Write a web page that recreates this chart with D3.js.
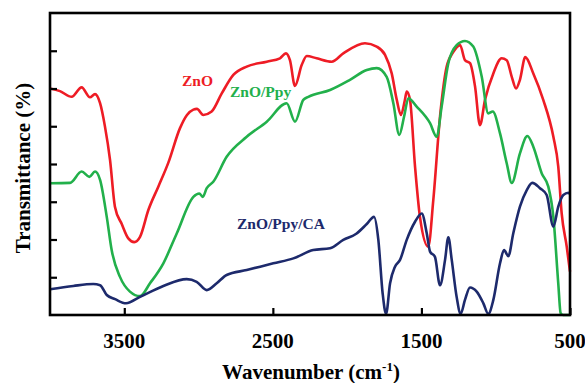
<!DOCTYPE html>
<html>
<head>
<meta charset="utf-8">
<script src="https://cdn.jsdelivr.net/npm/d3@7"></script>
<style>
  body { margin: 0; background: #fff; }
  svg text { font-family: "Liberation Serif", "Times New Roman", serif; font-weight: bold; }
</style>
</head>
<body>
<svg id="chart" width="585" height="383"></svg>
<script>
// FTIR spectra: [wavenumber, transmittance (arbitrary offset units)]
const znO = [
  [4000, 60.0], [3933, 59.3], [3854, 57.8], [3787, 60.3], [3731, 57.7], [3697, 58.5],
  [3663, 56.1], [3630, 49.9], [3596, 41.1], [3563, 28.7], [3517, 24.1], [3473, 20.3],
  [3433, 19.3], [3394, 20.7], [3338, 27.8], [3271, 34.0], [3204, 40.3], [3125, 49.5],
  [3078, 53.0], [3035, 54.4], [3011, 54.6], [2968, 53.0], [2912, 53.9], [2844, 58.7],
  [2766, 63.6], [2676, 65.8], [2541, 67.1], [2452, 68.0], [2412, 69.3], [2385, 67.5],
  [2351, 60.7], [2306, 66.2], [2272, 68.6], [2205, 68.0], [2104, 67.1], [2026, 69.3],
  [1880, 72.0], [1801, 71.1], [1745, 68.9], [1700, 64.0], [1666, 57.0], [1638, 53.0],
  [1611, 57.0], [1599, 59.2], [1577, 57.0], [1543, 39.3], [1510, 26.0], [1454, 18.1],
  [1420, 30.5], [1375, 52.5], [1330, 65.8], [1285, 69.7], [1240, 71.5], [1207, 67.5],
  [1173, 66.7], [1139, 60.5], [1106, 50.3], [1072, 57.0], [1016, 64.0], [960, 68.0],
  [926, 67.5], [892, 63.1], [863, 60.0], [837, 62.3], [801, 68.3], [747, 64.0],
  [680, 57.0], [612, 47.2], [579, 39.3], [556, 26.9], [522, 18.1], [500, 11.5]
];
const znOPpy = [
  [4000, 34.9], [3865, 35.0], [3787, 38.0], [3735, 36.6], [3697, 38.0], [3663, 35.8],
  [3618, 26.0], [3585, 17.2], [3529, 10.1], [3462, 6.2], [3394, 5.0], [3327, 8.4],
  [3237, 13.7], [3147, 21.6], [3035, 31.3], [2995, 32.2], [2972, 31.3], [2945, 33.6],
  [2901, 35.3], [2811, 41.9], [2676, 47.2], [2541, 51.2], [2407, 56.1], [2351, 51.2],
  [2295, 57.0], [2261, 57.8], [2115, 59.6], [1981, 62.3], [1868, 64.9], [1801, 65.4],
  [1734, 63.1], [1689, 56.1], [1649, 47.7], [1617, 52.5], [1588, 57.4], [1532, 55.2],
  [1442, 50.8], [1397, 47.2], [1364, 55.2], [1319, 66.7], [1263, 71.5], [1207, 72.6],
  [1151, 71.1], [1094, 63.1], [1050, 53.4], [1020, 53.9], [971, 48.1], [926, 40.2],
  [892, 35.0], [837, 42.8], [787, 47.4], [747, 44.6], [690, 37.5], [646, 34.0],
  [612, 26.0], [579, 8.4], [563, 0.5], [547, 0], [500, 0]
];
const znOPpyCA = [
  [4000, 6.8], [3843, 7.7], [3709, 8.2], [3663, 7.9], [3618, 5.3], [3562, 4.2],
  [3488, 3.1], [3394, 4.8], [3237, 7.7], [3080, 9.5], [3013, 8.8], [2945, 6.6],
  [2878, 8.4], [2811, 10.6], [2676, 11.9], [2497, 13.7], [2362, 15.0], [2228, 17.2],
  [2115, 17.7], [2026, 19.9], [1936, 21.6], [1868, 24.1], [1819, 26.0], [1790, 19.9],
  [1761, 5.7], [1738, 0.3], [1711, 8.4], [1678, 12.8], [1644, 14.6], [1599, 19.9],
  [1543, 24.7], [1498, 26.9], [1464, 21.6], [1442, 16.8], [1409, 15.4], [1375, 7.9],
  [1341, 14.6], [1319, 20.6], [1296, 14.6], [1263, 4.8], [1236, 0.3], [1207, 4.0],
  [1173, 7.3], [1128, 6.2], [1083, 3.1], [1050, 0.3], [1016, 4.0], [971, 13.7],
  [944, 17.2], [915, 15.6], [882, 21.6], [837, 28.7], [791, 33.1], [754, 35.0],
  [702, 33.6], [657, 31.8], [612, 23.4], [579, 28.7], [545, 31.8], [511, 32.4], [500, 32.0]
];
const seriesNames = ["ZnO", "ZnO/Ppy", "ZnO/Ppy/CA"];
const xTicks = [3500, 2500, 1500, 500];
const yTicks = [10, 20, 30, 40, 50, 60, 70];

const colors = ["#ee1c25", "#22b04b", "#1d2a6c"];
const plot = { left: 50, right: 570, top: 13, bottom: 315 };

const svg = d3.select("#chart");

const x = d3.scaleLinear().domain([4000, 500]).range([plot.left, plot.right]);
const y = d3.scaleLinear().domain([0, 80]).range([plot.bottom, plot.top]);

// spectra
const line = d3.line()
  .x(d => x(d[0]))
  .y(d => y(d[1]))
  .curve(d3.curveMonotoneX);

const data = [znO, znOPpy, znOPpyCA];
svg.append("g")
  .selectAll("path")
  .data(data)
  .enter()
  .append("path")
  .attr("d", d => line(d))
  .attr("fill", "none")
  .attr("stroke", (d, i) => colors[i])
  .attr("stroke-width", 2.6)
  .attr("stroke-linejoin", "round");

// frame
svg.append("rect")
  .attr("x", plot.left).attr("y", plot.top)
  .attr("width", plot.right - plot.left).attr("height", plot.bottom - plot.top)
  .attr("fill", "none")
  .attr("stroke", "#000")
  .attr("stroke-width", 2.6);

// x axis: ticks pointing up into the plot
const xAxis = svg.append("g")
  .attr("transform", "translate(0," + plot.bottom + ")")
  .call(d3.axisTop(x).tickValues(xTicks).tickSize(7).tickFormat(""));
xAxis.select(".domain").remove();
xAxis.selectAll("line").attr("stroke", "#000").attr("stroke-width", 2.2);

svg.append("g")
  .selectAll("text")
  .data(xTicks)
  .enter()
  .append("text")
  .attr("x", d => x(d))
  .attr("y", 348)
  .attr("text-anchor", "middle")
  .attr("font-size", 21)
  .text(d => d);

// y axis: unlabeled inner ticks
const yAxis = svg.append("g")
  .attr("transform", "translate(" + plot.left + ",0)")
  .call(d3.axisRight(y).tickValues(yTicks).tickSize(7).tickFormat(""));
yAxis.select(".domain").remove();
yAxis.selectAll("line").attr("stroke", "#000").attr("stroke-width", 2.2);

// axis titles
const xt = svg.append("text")
  .attr("x", 311)
  .attr("y", 379)
  .attr("text-anchor", "middle")
  .attr("font-size", 21);
xt.append("tspan").text("Wavenumber (cm");
xt.append("tspan").attr("font-size", 13).attr("dy", -8).text("-1");
xt.append("tspan").attr("dy", 8).text(")");

svg.append("text")
  .attr("transform", "translate(30,168) rotate(-90)")
  .attr("text-anchor", "middle")
  .attr("font-size", 21)
  .text("Transmittance (%)");

// series labels
const labelPos = [[182, 86], [230, 97], [237, 229]];
svg.append("g")
  .selectAll("text")
  .data(seriesNames)
  .enter()
  .append("text")
  .attr("x", (d, i) => labelPos[i][0])
  .attr("y", (d, i) => labelPos[i][1])
  .attr("font-size", 15.5)
  .attr("fill", (d, i) => colors[i])
  .text(d => d);
</script>
</body>
</html>
